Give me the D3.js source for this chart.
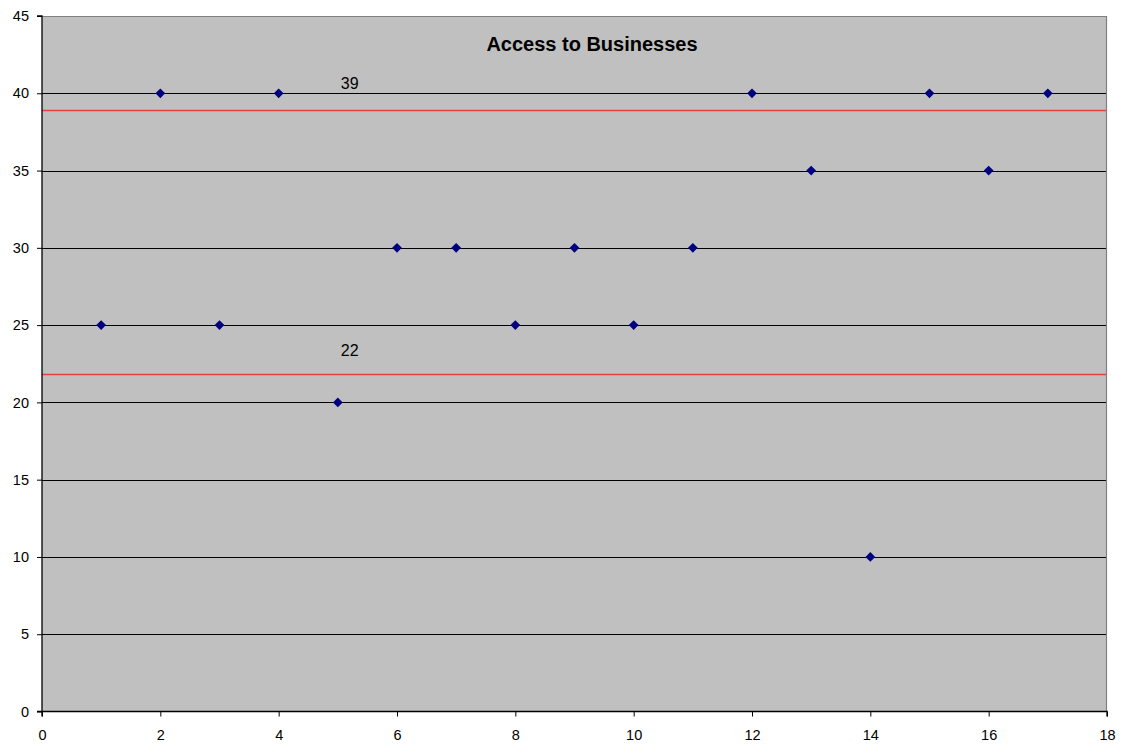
<!DOCTYPE html>
<html>
<head>
<meta charset="utf-8">
<script src="https://cdn.jsdelivr.net/npm/d3@7"></script>
<style>
  html, body { margin: 0; padding: 0; background: #fff; }
  svg { display: block; font-family: Arial, "Liberation Sans", sans-serif; }
</style>
</head>
<body>
<svg id="chart" width="1122" height="749"></svg>
<script>
// Scores for each business location
const xValues = [1, 2, 3, 4, 5, 6, 7, 8, 9, 10, 11, 12, 13, 14, 15, 16, 17];
const yValues = [25, 40, 25, 40, 20, 30, 30, 25, 30, 25, 30, 40, 35, 10, 40, 35, 40];
// Upper and lower reference levels
const refLevels = [38.94, 21.82];
const xTicks = [0, 2, 4, 6, 8, 10, 12, 14, 16, 18];
const yTicks = [0, 5, 10, 15, 20, 25, 30, 35, 40, 45];
const title = "Access to Businesses";

const svg = d3.select("#chart");
const plotLeft = 42, plotRight = 1107, plotTop = 16, plotBottom = 711.5;
const refLabelGap = [20.5, 17.8];

const x = d3.scaleLinear().domain([0, 18]).range([plotLeft, plotRight]);
const y = d3.scaleLinear().domain([0, 45]).range([plotBottom, plotTop]);

// plot background
svg.append("rect")
  .attr("x", plotLeft).attr("y", plotTop)
  .attr("width", plotRight - plotLeft).attr("height", plotBottom - plotTop)
  .attr("fill", "#c0c0c0");

// horizontal gridlines
svg.append("g").selectAll("line")
  .data(yTicks.filter(d => d > 0 && d < 45))
  .join("line")
  .attr("x1", plotLeft).attr("x2", plotRight)
  .attr("y1", d => Math.round(y(d)) + 0.5).attr("y2", d => Math.round(y(d)) + 0.5)
  .attr("stroke", "#000").attr("stroke-width", 1);

// plot frame (top and right)
svg.append("path")
  .attr("d", `M${plotLeft},${plotTop + 0.5}H${plotRight - 0.5}V${plotBottom}`)
  .attr("fill", "none").attr("stroke", "#808080").attr("stroke-width", 1.2);

// reference lines
svg.append("g").selectAll("line")
  .data(refLevels)
  .join("line")
  .attr("x1", plotLeft).attr("x2", plotRight - 1)
  .attr("y1", d => Math.round(y(d)) + 0.5).attr("y2", d => Math.round(y(d)) + 0.5)
  .attr("stroke", "#e8403c").attr("stroke-width", 1.3);

svg.append("g").selectAll("text")
  .data(refLevels)
  .join("text")
  .attr("x", x(5.2))
  .attr("y", (d, i) => y(d) - refLabelGap[i])
  .attr("text-anchor", "middle")
  .attr("font-size", 16)
  .attr("fill", "#000")
  .text(d => Math.round(d));

// axes
const xAxis = d3.axisBottom(x).tickValues(xTicks).tickSize(5).tickPadding(13);
const yAxis = d3.axisLeft(y).tickValues(yTicks).tickSize(5).tickPadding(8);

const gx = svg.append("g").attr("transform", `translate(0,${plotBottom})`).call(xAxis);
const gy = svg.append("g").attr("transform", `translate(${plotLeft},0)`).call(yAxis);
[gx, gy].forEach(g => {
  g.select(".domain").attr("stroke", "#000").attr("stroke-width", 1.3);
  g.selectAll(".tick line").attr("stroke", "#000");
  g.selectAll(".tick text")
    .attr("font-size", 14.5)
    .attr("font-family", "Arial, 'Liberation Sans', sans-serif")
    .attr("fill", "#000");
});
gy.select(".domain").attr("d", `M-5,${plotBottom}H0V${plotTop}H-5`);
gx.select(".domain").attr("d", `M${plotLeft},5V0H${plotRight}V5`);

// data points as diamonds
const diamond = d3.symbol().type(d3.symbolDiamond2).size(60);
svg.append("g").selectAll("path")
  .data(xValues.map((v, i) => [v, yValues[i]]))
  .join("path")
  .attr("d", diamond)
  .attr("transform", d => `translate(${x(d[0])},${y(d[1])})`)
  .attr("fill", "#000080");

// title
svg.append("text")
  .attr("x", 592).attr("y", 51)
  .attr("text-anchor", "middle")
  .attr("font-size", 20)
  .attr("font-weight", "bold")
  .attr("fill", "#000")
  .text(title);
</script>
</body>
</html>
